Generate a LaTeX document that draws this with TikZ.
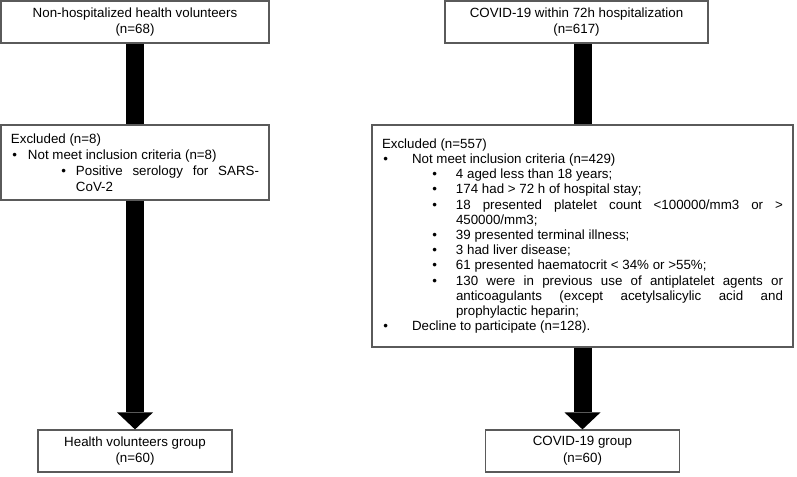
\documentclass[tikz,border=0pt]{standalone}
\usepackage{fontspec}
\setmainfont{Liberation Sans}
\definecolor{boxgray}{RGB}{90, 90, 90}
\usetikzlibrary{arrows.meta, positioning}

% bullet line: indent, gap after bullet, text
\newcommand{\bulitem}[3]{{\leftskip=#1\noindent\llap{\textbullet\hspace{#2}}#3\par}}

\begin{document}
\begin{tikzpicture}[x=0.75pt, y=-0.75pt,
  box/.style={draw=boxgray, line width=0.9pt, inner sep=0pt, minimum height=31.5pt, align=center, font=\fontsize{10pt}{12.5pt}\selectfont},
  listbox/.style={draw=boxgray, line width=0.9pt, inner xsep=7.5pt, inner ysep=0pt, align=justify},
  shaft/.style={line width=13.5pt, black},
  head/.style={-{Triangle[width=27pt, length=12.75pt, line width=0pt]}}
]
  \useasboundingbox (0,0) rectangle (797,476);

  % Starting populations
  \node[box, minimum width=201pt] (volun) at (135, 22) {Non-hospitalized health volunteers\\(n=68)};
  \node[box, minimum width=197.25pt] (covid) at (576.5, 22) {COVID-19 within 72h hospitalization\\(n=617)};

  % Exclusions
  \node[listbox, text width=186pt, minimum height=56.25pt, font=\fontsize{10pt}{12pt}\selectfont] (exclvol) at (135, 162.5) {%
    \noindent Excluded (n=8)\par
    \bulitem{12.75pt}{8.25pt}{Not meet inclusion criteria (n=8)}
    \bulitem{48.75pt}{7.5pt}{Positive serology for SARS-\linebreak CoV-2}};
  \node[listbox, text width=300.75pt, minimum height=166.5pt, font=\fontsize{10pt}{11.4pt}\selectfont] (exclcov) at (582.5, 236) {%
    \noindent Excluded (n=557)\par
    \bulitem{22.5pt}{18pt}{Not meet inclusion criteria (n=429)}
    \bulitem{55.5pt}{14.25pt}{4 aged less than 18 years;}
    \bulitem{55.5pt}{14.25pt}{174 had > 72 h of hospital stay;}
    \bulitem{55.5pt}{14.25pt}{18 presented platelet count <100000/mm3 or >\linebreak 450000/mm3;}
    \bulitem{55.5pt}{14.25pt}{39 presented terminal illness;}
    \bulitem{55.5pt}{14.25pt}{3 had liver disease;}
    \bulitem{55.5pt}{14.25pt}{61 presented haematocrit < 34\% or >55\%;}
    \bulitem{55.5pt}{14.25pt}{130 were in previous use of antiplatelet agents or\linebreak anticoagulants (except acetylsalicylic acid and\linebreak prophylactic heparin;}
    \bulitem{22.5pt}{18pt}{Decline to participate (n=128).}};

  % Final groups
  \node[box, minimum width=145.5pt] (volgroup) at (135, 451) {Health volunteers group\\(n=60)};
  \node[box, minimum width=145.5pt] (covgroup) at (582.5, 451) {COVID-19 group\\(n=60)};

  % Thick arrows
  \draw[shaft] (volun) -- (exclvol);
  \draw[shaft] (exclcov.north) -- (exclcov.north |- covid.south);
  \draw[shaft, head] (exclvol) -- (volgroup);
  \draw[shaft, head] (exclcov) -- (covgroup);
\end{tikzpicture}
\end{document}
